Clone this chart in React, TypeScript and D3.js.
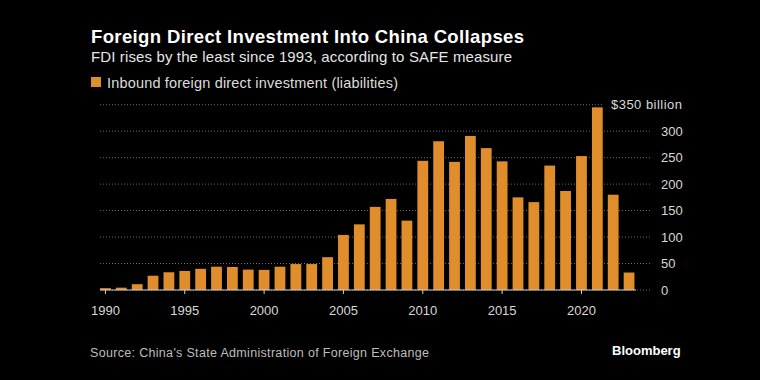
import React from "react";
import * as d3 from "d3";

const years: number[] = [
  1990, 1991, 1992, 1993, 1994, 1995, 1996, 1997, 1998, 1999,
  2000, 2001, 2002, 2003, 2004, 2005, 2006, 2007, 2008, 2009,
  2010, 2011, 2012, 2013, 2014, 2015, 2016, 2017, 2018, 2019,
  2020, 2021, 2022, 2023,
];
const fdi: number[] = [
  3.5, 4.4, 11, 27, 33.5, 36, 40, 44, 43.5, 38.5,
  38, 44, 49, 49, 62, 104, 124, 157, 172, 131,
  244, 281, 242, 291, 268, 243, 175, 166, 235, 187,
  253, 345, 180, 33,
];
const yTicks: number[] = [0, 50, 100, 150, 200, 250, 300, 350];
const xTickYears: number[] = [1990, 1995, 2000, 2005, 2010, 2015, 2020];

const title = "Foreign Direct Investment Into China Collapses";
const subtitle = "FDI rises by the least since 1993, according to SAFE measure";
const legendLabel = "Inbound foreign direct investment (liabilities)";
const source = "Source: China's State Administration of Foreign Exchange";

const W = 760;
const H = 380;
const BAR = "#e08e2b";
const FONT = "'Liberation Sans', Arial, sans-serif";

export default function App() {
  const x = d3
    .scaleBand<number>()
    .domain(years)
    .range([97.5, 637])
    .paddingInner(0.32)
    .paddingOuter(0.16);
  const y = d3.scaleLinear().domain([0, 350]).range([290, 104.7]);
  const gridX0 = 100;
  const gridX1 = 652;

  return (
    <svg
      width={W}
      height={H}
      style={{ position: "absolute", left: 0, top: 0, background: "#000" }}
      fontFamily={FONT}
    >
      <rect x={0} y={0} width={W} height={H} fill="#000" />
      <text x={91} y={43} fill="#fff" fontSize={18.5} fontWeight="bold" textLength={433} lengthAdjust="spacing">
        {title}
      </text>
      <text x={91} y={62} fill="#e6e6e6" fontSize={15} textLength={421} lengthAdjust="spacing">
        {subtitle}
      </text>
      <rect x={91} y={77} width={10} height={10} fill={BAR} />
      <text x={107} y={88} fill="#dcdcdc" fontSize={14.5} textLength={291} lengthAdjust="spacing">
        {legendLabel}
      </text>

      {yTicks.map((t) => (
        <line
          key={"g" + t}
          x1={gridX0}
          x2={t === 350 ? 603 : gridX1}
          y1={y(t)}
          y2={y(t)}
          stroke="#6a6a6a"
          strokeWidth={1}
          strokeDasharray="1,2"
        />
      ))}
      {yTicks.map((t) => (
        <text
          key={"l" + t}
          x={t === 350 ? 611 : 661}
          y={y(t)}
          dy="0.35em"
          fill="#d8d8d8"
          fontSize={13}
          textLength={t === 350 ? 71 : undefined}
          lengthAdjust="spacing"
        >
          {t === 350 ? "$350 billion" : String(t)}
        </text>
      ))}

      {years.map((yr, i) => (
        <rect
          key={yr}
          x={x(yr)}
          y={y(fdi[i])}
          width={x.bandwidth()}
          height={y(0) - y(fdi[i])}
          fill={BAR}
        />
      ))}

      <line x1={gridX0} x2={636} y1={y(0)} y2={y(0)} stroke="#d0d0d0" strokeWidth={1} />
      {xTickYears.map((yr) => {
        const cx = (x(yr) as number) + x.bandwidth() / 2;
        return (
          <g key={"t" + yr}>
            <line x1={cx} x2={cx} y1={y(0)} y2={y(0) + 4} stroke="#d0d0d0" />
            <text x={cx} y={315} textAnchor="middle" fill="#d8d8d8" fontSize={13}>
              {yr}
            </text>
          </g>
        );
      })}

      <text x={90} y={357} fill="#bdbdbd" fontSize={12.5} textLength={339} lengthAdjust="spacing">
        {source}
      </text>
      <text x={612} y={355} fill="#fff" fontSize={13} fontWeight="bold">
        Bloomberg
      </text>
    </svg>
  );
}
